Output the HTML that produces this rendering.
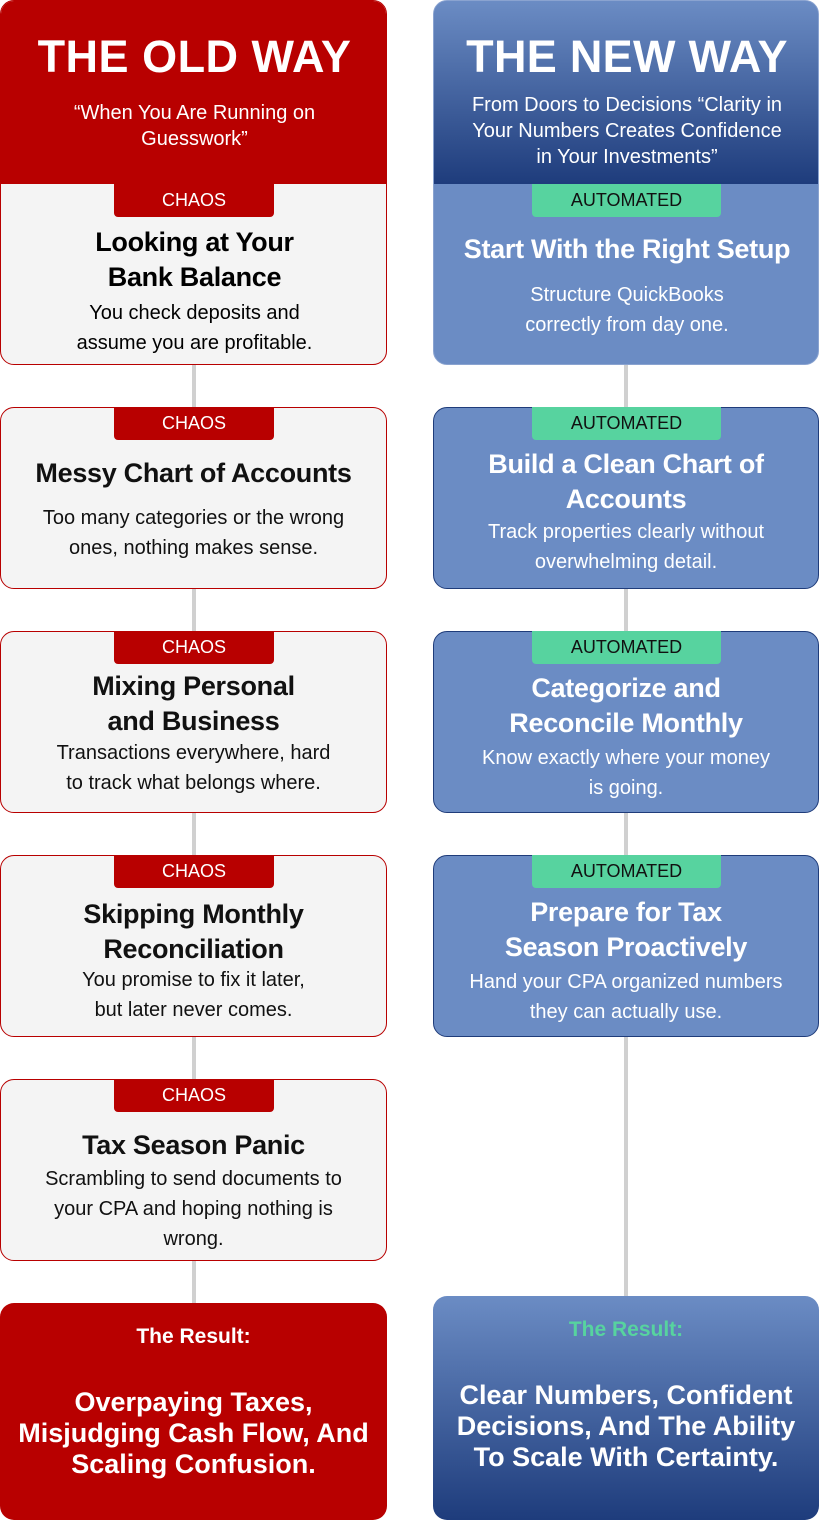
<!DOCTYPE html>
<html><head><meta charset="utf-8"><style>
*{margin:0;padding:0;box-sizing:border-box}
body{width:819px;height:1520px;background:#fff;font-family:"Liberation Sans",sans-serif;position:relative;overflow:hidden}
.ab{position:absolute}
.line{position:absolute;width:4px;background:#d0d0d0}
.card{position:absolute;border-radius:14px;text-align:center}
.old{left:0;width:387px;background:#f4f4f4;border:1px solid #b80000}
.new{left:433px;width:386px;background:#6b8cc4;border:1px solid #1f3c7a;color:#fff}
.badge{position:absolute;top:-1px;height:33px;line-height:33px;font-size:18px;border-radius:0 0 4px 4px}
.old .badge{left:113px;width:160px;background:#b80000;color:#fff}
.new .badge{left:98px;width:189px;background:#57d39f;color:#111}
.t{font-weight:bold;font-size:27px;line-height:35px;letter-spacing:-0.3px}
.d{font-size:20px;line-height:30px}
.old .t,.old .d{color:#111}
</style></head><body>
<div class="line" style="left:192px;top:360px;height:950px"></div>
<div class="line" style="left:624px;top:360px;height:940px"></div>

<div class="card" style="left:0;top:0;width:387px;height:365px;background:#f4f4f4;border:1px solid #b80000;overflow:hidden">
<div class="ab" style="left:0;top:0;width:387px;height:183px;background:#b80000;color:#fff">
<div style="font-weight:bold;font-size:45px;margin-top:30px;letter-spacing:0.5px">THE OLD WAY</div>
<div style="font-size:20px;line-height:26px;margin-top:17px">“When You Are Running on<br>Guesswork”</div></div>
<div class="ab" style="left:113px;top:183px;width:160px;height:33px;line-height:33px;background:#b80000;color:#fff;font-size:18px;border-radius:0 0 4px 4px">CHAOS</div>
<div class="ab t" style="left:0;width:387px;top:224px">Looking at Your<br>Bank Balance</div>
<div class="ab d" style="left:0;width:387px;top:297px">You check deposits and<br>assume you are profitable.</div>
</div>

<div class="card" style="left:433px;top:0;width:386px;height:365px;background:#6b8cc4;border:1px solid #8aa3d0;overflow:hidden;color:#fff">
<div class="ab" style="left:0;top:0;width:386px;height:183px;background:linear-gradient(#6b8cc4,#1e3c7c)">
<div style="font-weight:bold;font-size:45px;margin-top:30px;letter-spacing:0.3px">THE NEW WAY</div>
<div style="font-size:20px;line-height:26px;margin-top:9px">From Doors to Decisions “Clarity in<br>Your Numbers Creates Confidence<br>in Your Investments”</div></div>
<div class="ab" style="left:98px;top:183px;width:189px;height:33px;line-height:33px;background:#57d39f;color:#111;font-size:18px;border-radius:0 0 4px 4px">AUTOMATED</div>
<div class="ab t" style="left:0;width:386px;top:231px">Start With the Right Setup</div>
<div class="ab d" style="left:0;width:386px;top:279px">Structure QuickBooks<br>correctly from day one.</div>
</div>

<div class="card old" style="top:407px;height:182px"><div class="badge">CHAOS</div>
<div class="ab t" style="left:0;width:385px;top:48px">Messy Chart of Accounts</div>
<div class="ab d" style="left:0;width:385px;top:95px">Too many categories or the wrong<br>ones, nothing makes sense.</div></div>
<div class="card old" style="top:631px;height:182px"><div class="badge">CHAOS</div>
<div class="ab t" style="left:0;width:385px;top:37px">Mixing Personal<br>and Business</div>
<div class="ab d" style="left:0;width:385px;top:106px">Transactions everywhere, hard<br>to track what belongs where.</div></div>
<div class="card old" style="top:855px;height:182px"><div class="badge">CHAOS</div>
<div class="ab t" style="left:0;width:385px;top:41px">Skipping Monthly<br>Reconciliation</div>
<div class="ab d" style="left:0;width:385px;top:109px">You promise to fix it later,<br>but later never comes.</div></div>
<div class="card old" style="top:1079px;height:182px"><div class="badge">CHAOS</div>
<div class="ab t" style="left:0;width:385px;top:48px">Tax Season Panic</div>
<div class="ab d" style="left:0;width:385px;top:84px">Scrambling to send documents to<br>your CPA and hoping nothing is<br>wrong.</div></div>

<div class="card new" style="top:407px;height:182px"><div class="badge">AUTOMATED</div>
<div class="ab t" style="left:0;width:384px;top:39px">Build a Clean Chart of<br>Accounts</div>
<div class="ab d" style="left:0;width:384px;top:109px">Track properties clearly without<br>overwhelming detail.</div></div>
<div class="card new" style="top:631px;height:182px"><div class="badge">AUTOMATED</div>
<div class="ab t" style="left:0;width:384px;top:39px">Categorize and<br>Reconcile Monthly</div>
<div class="ab d" style="left:0;width:384px;top:111px">Know exactly where your money<br>is going.</div></div>
<div class="card new" style="top:855px;height:182px"><div class="badge">AUTOMATED</div>
<div class="ab t" style="left:0;width:384px;top:39px">Prepare for Tax<br>Season Proactively</div>
<div class="ab d" style="left:0;width:384px;top:111px">Hand your CPA organized numbers<br>they can actually use.</div></div>

<div class="card" style="left:0;top:1303px;width:387px;height:217px;background:#b80000;color:#fff">
<div style="font-weight:bold;font-size:21px;margin-top:22px">The Result:</div>
<div style="font-weight:bold;font-size:27px;line-height:31px;margin-top:38px">Overpaying Taxes,<br>Misjudging Cash Flow, And<br>Scaling Confusion.</div></div>
<div class="card" style="left:433px;top:1296px;width:386px;height:224px;background:linear-gradient(#6b8cc4,#1e3c7c);color:#fff">
<div style="font-weight:bold;font-size:21px;margin-top:22px;color:#57d39f">The Result:</div>
<div style="font-weight:bold;font-size:27px;line-height:31px;margin-top:38px">Clear Numbers, Confident<br>Decisions, And The Ability<br>To Scale With Certainty.</div></div>
</body></html>
